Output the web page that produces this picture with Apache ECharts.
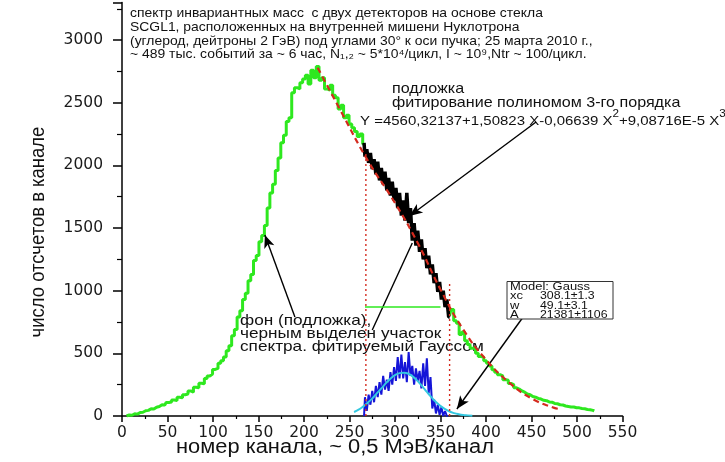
<!DOCTYPE html>
<html>
<head>
<meta charset="utf-8">
<script src="https://cdn.jsdelivr.net/npm/echarts@6/dist/echarts.min.js"></script>
<style>
  html, body { margin: 0; padding: 0; background: #fff; }
  #chart { width: 725px; height: 462px; }
</style>
</head>
<body>
<div id="chart"></div>
<script>
// Invariant-mass spectrum, counts per channel (~0.5 MeV/channel)
const xTicks = [0, 50, 100, 150, 200, 250, 300, 350, 400, 450, 500, 550];
const yTicks = [0, 500, 1000, 1500, 2000, 2500, 3000];

// background spectrum, left part (channel 5, step 3)
const fonLeftStart = 5, fonLeftStep = 3;
const fonLeftCounts = [
  0, 8, 6, 18, 15, 28, 30, 42, 45, 58, 55, 70, 76, 90, 88, 108, 112, 128, 124, 150,
  146, 170, 175, 200, 190, 230, 225, 262, 258, 300, 320, 335, 372, 380, 420, 440, 470, 520, 560, 640,
  690, 790, 840, 930, 980, 1080, 1130, 1240, 1280, 1390, 1440, 1520, 1660, 1780, 1850, 1960, 2060, 2180, 2240, 2350,
  2380, 2580, 2620, 2610, 2660, 2690, 2720, 2650, 2760, 2700, 2790, 2680, 2700, 2610, 2600, 2640, 2560, 2540, 2450, 2480,
  2380, 2400, 2330, 2300, 2270, 2230, 2250, 2170
];

// section fitted by the Gaussian (shown in black), channel 266, step 2
const fitStart = 266, fitStep = 2;
const fitCounts = [
  2180, 2070, 2130, 2020, 2100, 1970, 2050, 1930, 2030, 1880, 1980, 1850, 1950, 1800, 1900, 1760,
  1870, 1720, 1820, 1660, 1780, 1600, 1720, 1560, 1780, 1540, 1660, 1400, 1540, 1360, 1480, 1310,
  1410, 1250, 1340, 1180, 1280, 1130, 1210, 1060, 1140, 990, 1070, 930, 1000, 870, 930, 790
];

// background spectrum, right part (channel 360, step 3)
const fonRightStart = 360, fonRightStep = 3;
const fonRightCounts = [
  800, 850, 760, 740, 650, 670, 600, 570, 540, 545, 500, 475, 470, 440, 420, 400, 370, 350, 330, 320,
  290, 285, 260, 250, 225, 215, 200, 190, 175, 170, 155, 150, 140, 135, 125, 122, 112, 110, 100, 98,
  90, 88, 80, 76, 72, 72, 66, 65, 60, 58, 52, 50, 45, 40
];

// signal after background subtraction (channel 266, step 2)
const peakStart = 266, peakStep = 2;
const peakCounts = [
  0, 150, 40, 170, 90, 200, 110, 240, 150, 270, 170, 320, 210, 290, 200, 350,
  250, 390, 280, 470, 300, 490, 300, 430, 270, 510, 320, 400, 250, 380, 280, 360,
  220, 420, 240, 460, 180, 310, 60, 130, 20, 90, 10, 70, 0, 40, 0
];

// Gauss model curve (xc 308.1, w 49.1, A 21381)
const gaussChannels = [255, 260, 265, 270, 275, 280, 285, 290, 295, 300, 305, 310, 315, 320,
  325, 330, 335, 340, 345, 350, 355, 360, 365, 370, 375, 380, 385];
const gaussCounts = [32, 50, 75, 105, 140, 180, 220, 262, 298, 326, 342, 346, 336, 312,
  278, 236, 192, 150, 111, 80, 55, 36, 23, 14, 8, 5, 2];

// 3rd-order polynomial background fit
const polyChannels = [215, 240, 270, 300, 325, 350, 375, 400, 425, 450, 475, 482];
const polyCounts = [2780, 2440, 2040, 1700, 1380, 1010, 690, 450, 270, 140, 65, 55];

// fit window borders and background level inside it
const windowChannels = [268, 360];
const windowTops = [2100, 1060];
const levelChannels = [267, 350];
const levelCount = 870;

const pairs = (start, step, counts) => counts.map((v, i) => [start + i * step, v]);

const TXT = '"Liberation Sans", Arial, sans-serif';
const chart = echarts.init(document.getElementById('chart'), null, { renderer: 'canvas' });

const arrowLines = [
  [{ coord: [190, 790], symbol: 'none' }, { coord: [157, 1445], symbol: 'arrow' }],
  [{ coord: [275, 686], symbol: 'none' }, { coord: [319, 1380], symbol: 'none' }],
  [{ coord: [455, 2346], symbol: 'none' }, { coord: [316, 1596], symbol: 'arrow' }],
  [{ coord: [440, 782], symbol: 'none' }, { coord: [368, 56], symbol: 'arrow' }]
];

const tickFont = { fontFamily: '"DejaVu Sans", sans-serif', fontSize: 15.5, color: '#1a1a1a' };

const option = {
  animation: false,
  backgroundColor: '#ffffff',
  grid: { left: 122, right: 102.5, top: 2.5, bottom: 46, containLabel: false },
  xAxis: {
    type: 'value', min: xTicks[0], max: xTicks[xTicks.length - 1], interval: 50,
    axisLine: { lineStyle: { color: '#000', width: 1.5 } },
    axisTick: { length: 6, lineStyle: { color: '#000', width: 1.5 } },
    minorTick: { show: true, splitNumber: 2, length: 3, lineStyle: { color: '#000', width: 1.2 } },
    splitLine: { show: false },
    axisLabel: Object.assign({ margin: 9, formatter: v => String(v) }, tickFont)
  },
  yAxis: {
    type: 'value', min: yTicks[0], max: 3300, interval: 500,
    axisLine: { show: true, lineStyle: { color: '#000', width: 1.5 } },
    axisTick: { show: true, length: 9, lineStyle: { color: '#000', width: 1.5 } },
    minorTick: { show: true, splitNumber: 2, length: 5, lineStyle: { color: '#000', width: 1.2 } },
    splitLine: { show: false },
    axisLabel: Object.assign({ margin: 19, showMaxLabel: false, formatter: v => String(v) }, tickFont)
  },
  series: [
    {
      type: 'line', data: pairs(fonLeftStart, fonLeftStep, fonLeftCounts), step: 'middle',
      showSymbol: false, lineStyle: { color: '#2ee81f', width: 3 }, z: 2,
      markLine: {
        silent: true, symbolSize: [8, 13], label: { show: false },
        lineStyle: { color: '#000', width: 1.4, type: 'solid' },
        data: arrowLines
      }
    },
    {
      type: 'line', data: pairs(fonRightStart, fonRightStep, fonRightCounts), step: 'middle',
      showSymbol: false, lineStyle: { color: '#2ee81f', width: 3 }, z: 2
    },
    {
      type: 'line', data: pairs(fitStart, fitStep, fitCounts), step: 'middle',
      showSymbol: false, lineStyle: { color: '#000', width: 3.5 }, z: 3
    },
    {
      type: 'line', data: pairs(peakStart, peakStep, peakCounts), step: 'middle',
      showSymbol: false, lineStyle: { color: '#1515d8', width: 2 }, z: 3
    },
    {
      type: 'line', data: gaussChannels.map((c, i) => [c, gaussCounts[i]]), smooth: true,
      showSymbol: false, lineStyle: { color: '#33c8e0', width: 2 }, z: 4
    },
    {
      type: 'line', data: polyChannels.map((c, i) => [c, polyCounts[i]]), smooth: true,
      showSymbol: false, lineStyle: { color: '#d42a1e', width: 2.2, type: [6, 4] }, z: 5
    },
    {
      type: 'line', data: [[windowChannels[0], 0], [windowChannels[0], windowTops[0]]],
      showSymbol: false, lineStyle: { color: '#d42a1e', width: 1.4, type: [2, 3] }, z: 5
    },
    {
      type: 'line', data: [[windowChannels[1], 0], [windowChannels[1], windowTops[1]]],
      showSymbol: false, lineStyle: { color: '#d42a1e', width: 1.4, type: [2, 3] }, z: 5
    },
    {
      type: 'line', data: [[levelChannels[0], levelCount], [levelChannels[1], levelCount]],
      showSymbol: false, lineStyle: { color: '#2ee81f', width: 1.5 }, z: 5
    }
  ],
  graphic: [
    {
      type: 'text', x: 38, y: 232, rotation: Math.PI / 2, scaleX: 0.88,
      style: {
        text: 'число отсчетов в канале', font: '21px ' + TXT, fill: '#111',
        align: 'center', verticalAlign: 'middle'
      }
    },
    {
      type: 'text', x: 130, y: 7, scaleX: 1.07,
      style: {
        text: 'спектр инвариантных масс  с двух детекторов на основе стекла\n' +
              'SCGL1, расположенных на внутренней мишени Нуклотрона\n' +
              '(углерод, дейтроны 2 ГэВ) под углами 30° к оси пучка; 25 марта 2010 г.,\n' +
              '~ 489 тыс. событий за ~ 6 час, N₁,₂ ~ 5*10⁴/цикл, I ~ 10⁹,Ntr ~ 100/цикл.',
        font: '13px ' + TXT, fill: '#111', lineHeight: 13.6
      }
    },
    {
      type: 'text', x: 392, y: 82, scaleX: 1.11,
      style: {
        text: 'подложка\nфитирование полиномом 3-го порядка',
        font: '14.5px ' + TXT, fill: '#111', lineHeight: 14
      }
    },
    {
      type: 'text', x: 360, y: 109, scaleX: 1.11,
      style: {
        text: '{a|Y =4560,32137+1,50823 X-0,06639 X}{s|2}{a|+9,08716E-5 X}{s|3}',
        rich: {
          a: { font: '13.5px ' + TXT, fill: '#111', lineHeight: 19, verticalAlign: 'bottom' },
          s: { font: '10.5px ' + TXT, fill: '#111', lineHeight: 19, verticalAlign: 'top' }
        }
      }
    },
    {
      type: 'text', x: 240, y: 315, scaleX: 1.146,
      style: {
        text: 'фон (подложка),\nчерным выделен участок\nспектра. фитируемый Гауссом',
        font: '15px ' + TXT, fill: '#111', lineHeight: 12.6
      }
    },
    {
      type: 'rect', shape: { x: 507, y: 281.5, width: 106, height: 37.5 },
      style: { fill: '#fff', stroke: '#333', lineWidth: 1 }, z: 10
    },
    {
      type: 'text', x: 510, y: 282.5, z: 11, scaleX: 1.18,
      style: { text: 'Model: Gauss\nxc\nw\nA', font: '11px ' + TXT, fill: '#111', lineHeight: 9.3 }
    },
    {
      type: 'text', x: 540, y: 282.5, z: 11, scaleX: 1.12,
      style: { text: '\n308.1±1.3\n49.1±3.1\n21381±1106', font: '11px ' + TXT, fill: '#111', lineHeight: 9.3 }
    },
    {
      type: 'text', x: 176, y: 437, scaleX: 1.093,
      style: { text: 'номер канала, ~ 0,5 МэВ/канал', font: '20px ' + TXT, fill: '#111' }
    }
  ]
};

chart.setOption(option);
</script>
</body>
</html>
